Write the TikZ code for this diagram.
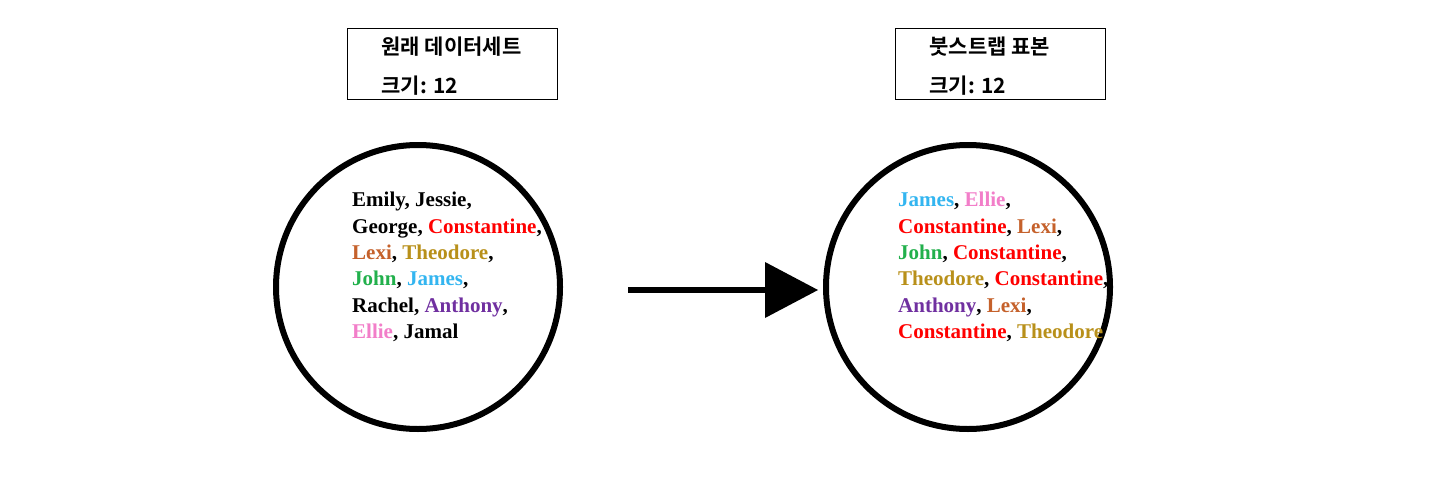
\documentclass[tikz,border=0pt]{standalone}
\usepackage{fontspec}
\setmainfont{Liberation Serif}
\newfontfamily\kr{Noto Sans CJK KR}[BoldFont={* Bold}]
\definecolor{cred}{HTML}{FF0000}
\definecolor{clexi}{HTML}{C5612B}
\definecolor{ctheo}{HTML}{B8901A}
\definecolor{cgreen}{HTML}{22B04C}
\definecolor{cblue}{HTML}{33B5F0}
\definecolor{cpurple}{HTML}{7030A0}
\definecolor{cpink}{HTML}{F27EC9}
\begin{document}
\begin{tikzpicture}[x=1pt,y=-1pt,
  circ/.style={draw,line width=6pt,circle,minimum size=284pt,inner sep=0pt},
  labelbox/.style={draw,line width=0.8pt,minimum width=210pt,minimum height=71pt,inner sep=0pt},
  boxtext/.style={font=\kr\bfseries\fontsize{21}{24}\selectfont,anchor=west},
  names/.style={font=\bfseries\fontsize{21}{26.4}\selectfont,align=left,anchor=north west,inner sep=0pt}]
\useasboundingbox (0,0) rectangle (1442,487);
\node[circ] (c1) at (418,287) {};
\node[circ] (c2) at (968,287) {};
\node[labelbox] (b1) at (452,63.5) {};
\node[labelbox] (b2) at (1000,63.5) {};
\node[boxtext] (t1a) at (378,47) {원래 데이터세트};
\node[boxtext] (t1b) at (378,86) {크기: 12};
\node[boxtext] (t2a) at (926,47) {붓스트랩 표본};
\node[boxtext] (t2b) at (926,86) {크기: 12};
\node[names] (n1) at (352,192) {Emily, Jessie,\\
George, \textcolor{cred}{Constantine},\\
\textcolor{clexi}{Lexi}, \textcolor{ctheo}{Theodore},\\
\textcolor{cgreen}{John}, \textcolor{cblue}{James},\\
Rachel, \textcolor{cpurple}{Anthony},\\
\textcolor{cpink}{Ellie}, Jamal};
\node[names] (n2) at (898,192) {\textcolor{cblue}{James}, \textcolor{cpink}{Ellie},\\
\textcolor{cred}{Constantine}, \textcolor{clexi}{Lexi},\\
\textcolor{cgreen}{John}, \textcolor{cred}{Constantine},\\
\textcolor{ctheo}{Theodore}, \textcolor{cred}{Constantine},\\
\textcolor{cpurple}{Anthony}, \textcolor{clexi}{Lexi},\\
\textcolor{cred}{Constantine}, \textcolor{ctheo}{Theodore}};
\coordinate (a0) at (628,290);
\coordinate (a1) at (768,290);
\draw[line width=6pt] (a0) -- (a1);
\fill (765,262) -- (818,290) -- (765,318) -- cycle;
\end{tikzpicture}
\end{document}
